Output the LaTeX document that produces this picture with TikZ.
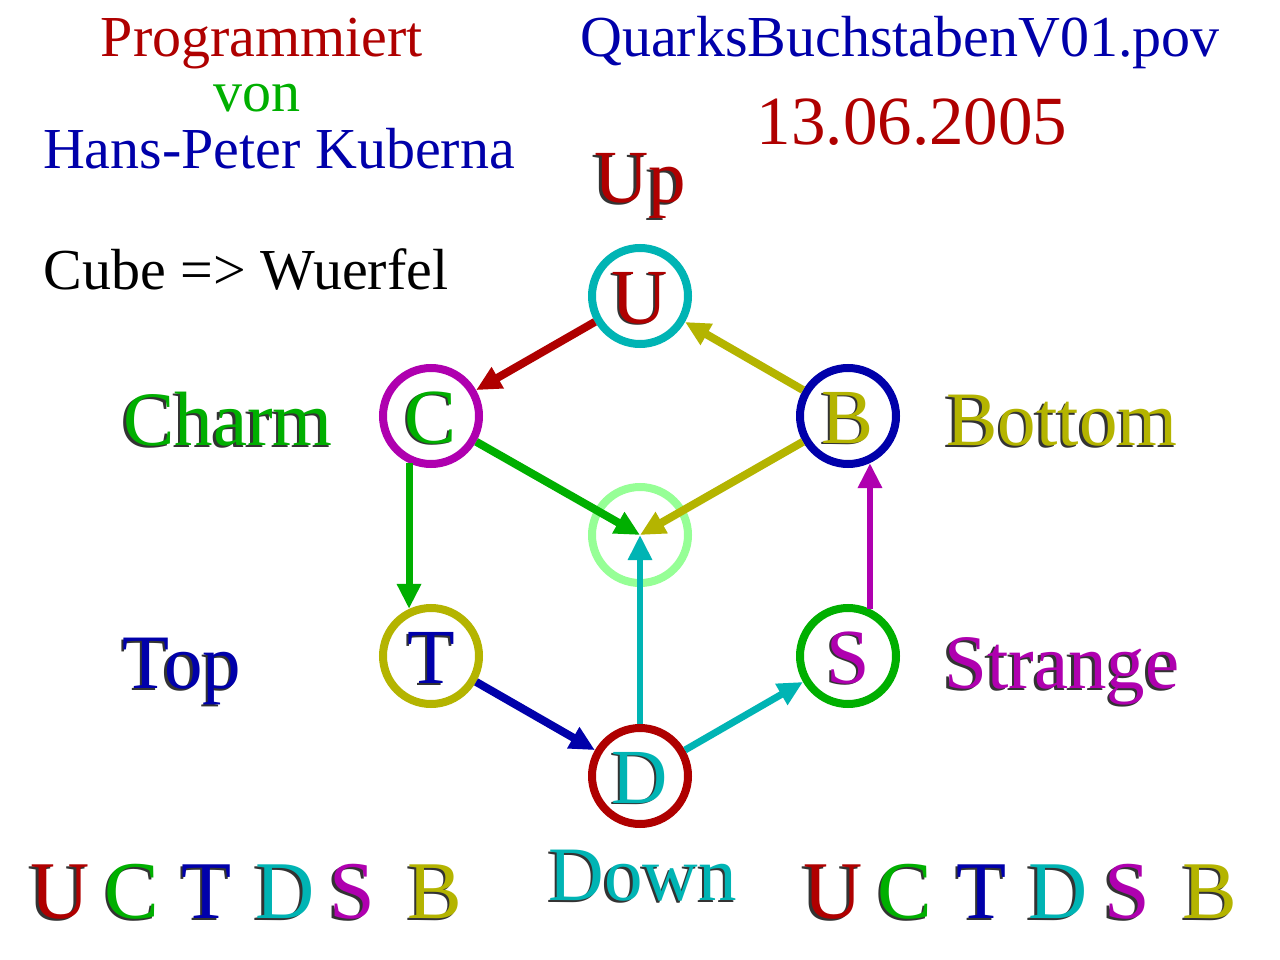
\documentclass[tikz,border=0pt]{standalone}
\usepackage{fontspec}
\setmainfont{Liberation Serif}
\usetikzlibrary{arrows.meta}
\definecolor{qred}{RGB}{175,0,0}
\definecolor{qgreen}{RGB}{0,175,0}
\definecolor{qblue}{RGB}{0,0,170}
\definecolor{qteal}{RGB}{0,180,180}
\definecolor{qmag}{RGB}{175,0,175}
\definecolor{qolive}{RGB}{180,180,0}
\definecolor{qlight}{RGB}{150,255,150}
\tikzset{
  ring/.style={circle,draw=#1,line width=8pt,minimum size=96pt,inner sep=0pt,fill=white},
  arr/.style={draw=#1,line width=8pt,-{Triangle[length=25pt,width=23pt,fill=#1]}},
  plain/.style={anchor=base,inner sep=0pt,text=#1},
}
\newcommand{\qflat}[5]{\node[plain=#3,font=\fontsize{#4}{#4}\selectfont] (#1) at (#2) {#5};}
\newcommand{\qshd}[5]{%
  \node[plain=black!80,font=\fontsize{#4}{#4}\selectfont] (#1s) at ([shift={(-2.5,2)}]#2) {#5};
  \node[plain=#3,font=\fontsize{#4}{#4}\selectfont] (#1) at (#2) {#5};}
\newcommand{\qletter}[4]{%
  \node[inner sep=0pt,text=black!80,font=\fontsize{78}{78}\selectfont] (#1s) at ([shift={(-2,1.5)}]#2) {#4};
  \node[inner sep=0pt,text=#3,font=\fontsize{78}{78}\selectfont] (#1l) at (#2) {#4};}
\begin{document}
\begin{tikzpicture}[x=1pt,y=-1pt]
\useasboundingbox (0,0) rectangle (1280,960);
\fill[white] (0,0) rectangle (1280,960);

% header texts
\qflat{prog}{262,57}{qred}{58}{Programmiert}
\qflat{von}{257,112}{qgreen}{58}{von}
\qflat{hans}{279,169}{qblue}{58}{Hans-Peter Kuberna}
\qflat{file}{900,57}{qblue}{58}{QuarksBuchstabenV01.pov}
\qflat{date}{912,145}{qred}{69}{13.06.2005}
\qflat{cube}{246,290}{black}{58}{Cube => Wuerfel}

% circles
\node[ring=qlight] (M) at (640,535) {};
\node[ring=qteal] (U) at (640,296) {};
\node[ring=qmag] (C) at (431,416) {};
\node[ring=qblue] (B) at (848,416) {};
\node[ring=qolive] (T) at (431,656) {};
\node[ring=qgreen] (S) at (848,656) {};
\node[ring=qred] (D) at (640,776) {};

% connectors
\draw[arr=qred] (U) -- (C);
\draw[arr=qolive] (B) -- (U);
\draw[arr=qgreen,line width=7pt] (C.245) -- (T.115);
\draw[arr=qmag,line width=6.5pt] (S.65) -- (B.295);
\draw[arr=qblue] (T) -- (D);
\draw[arr=qteal,line width=7pt] (D) -- (S);
\draw[arr=qgreen] (C) -- (M.center);
\draw[arr=qolive] (B) -- (M.center);
\draw[arr=qteal,line width=6pt] (D) -- (M.center);

% circle letters
\qletter{u}{640,298}{qred}{U}
\qletter{c}{431,418}{qgreen}{C}
\qletter{b}{848,418}{qolive}{B}
\qletter{t}{431,658}{qblue}{T}
\qletter{s}{848,658}{qmag}{S}
\qletter{d}{640,778}{qteal}{D}

% quark names
\qshd{up}{640,203}{qred}{75}{Up}
\qshd{charm}{228,445}{qgreen}{77}{Charm}
\qshd{bottom}{1062,445}{qolive}{77}{Bottom}
\qshd{top}{182,688}{qblue}{77}{Top}
\qshd{strange}{1062,688}{qmag}{77}{Strange}
\qshd{down}{643,900}{qteal}{77}{Down}

% letter rows
\qshd{lu}{60,918}{qred}{82}{U}
\qshd{lc}{132,918}{qgreen}{82}{C}
\qshd{lt}{207,918}{qblue}{82}{T}
\qshd{ld}{285,918}{qteal}{82}{D}
\qshd{ls}{352,918}{qmag}{82}{S}
\qshd{lb}{435,918}{qolive}{82}{B}
\qshd{ru}{833,918}{qred}{82}{U}
\qshd{rc}{905,918}{qgreen}{82}{C}
\qshd{rt}{982,918}{qblue}{82}{T}
\qshd{rd}{1058,918}{qteal}{82}{D}
\qshd{rs}{1127,918}{qmag}{82}{S}
\qshd{rb}{1210,918}{qolive}{82}{B}
\end{tikzpicture}
\end{document}
